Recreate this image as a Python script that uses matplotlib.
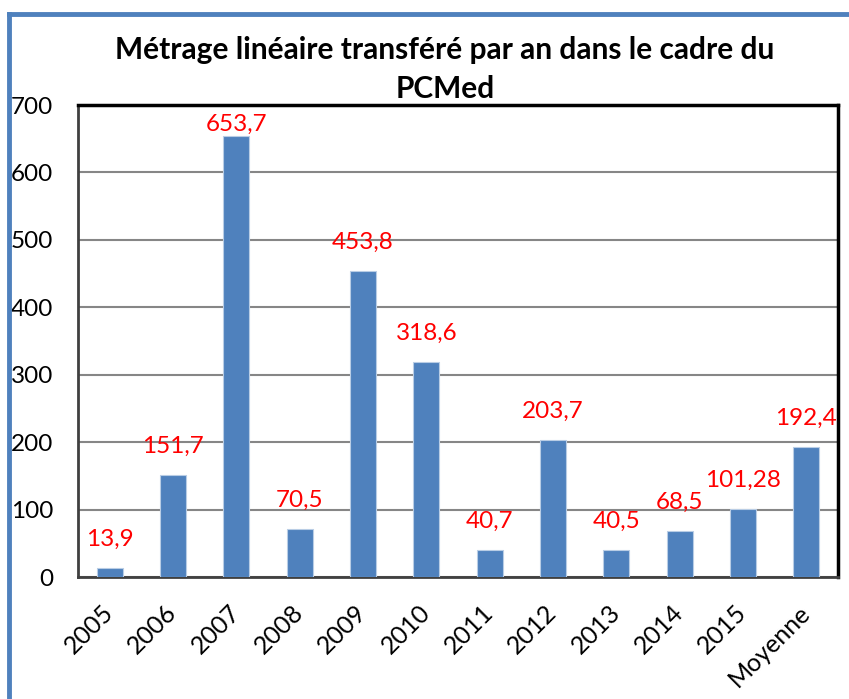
import matplotlib
matplotlib.use('Agg')
import matplotlib.pyplot as plt
from matplotlib.lines import Line2D

categories = ['2005', '2006', '2007', '2008', '2009', '2010', '2011', '2012',
              '2013', '2014', '2015', 'Moyenne']
values = [13.9, 151.7, 653.7, 70.5, 453.8, 318.6, 40.7, 203.7, 40.5, 68.5, 101.28, 192.4]
labels = ['13,9', '151,7', '653,7', '70,5', '453,8', '318,6', '40,7', '203,7',
          '40,5', '68,5', '101,28', '192,4']
yticks = [0, 100, 200, 300, 400, 500, 600, 700]

plt.rcParams['font.family'] = ['Lato', 'DejaVu Sans']
blue = '#4F81BD'

fig = plt.figure(figsize=(8.49, 6.99), dpi=100)
ax = fig.add_axes([78 / 849, 122 / 699, 760 / 849, 472 / 699])

x = list(range(len(categories)))
ax.bar(x, values, width=0.41, color=blue, edgecolor='#B9CDE5', linewidth=0.8, zorder=3)

for xi, v, lab in zip(x, values, labels):
    y = min(v + 27, 655)
    ax.text(xi, y, lab, ha='center', va='bottom', color='red', fontsize=17.5, zorder=4)

ax.set_xlim(-0.5, len(categories) - 0.5)
ax.set_ylim(0, 700)
ax.set_yticks(yticks)
ax.set_yticklabels([str(t) for t in yticks], fontsize=17.5)
ax.set_xticks(x)
ax.set_xticklabels(categories, fontsize=18, rotation=45, ha='right', va='center',
                   rotation_mode='anchor')
ax.tick_params(axis='y', length=0, pad=18)
ax.tick_params(axis='x', length=0, pad=23)
ax.yaxis.grid(True, color='#868686', linewidth=1.5, zorder=0)
ax.set_axisbelow(True)

for side in ['top', 'right']:
    ax.spines[side].set_color('black')
    ax.spines[side].set_linewidth(2.5)
for side in ['left', 'bottom']:
    ax.spines[side].set_color('#404040')
    ax.spines[side].set_linewidth(2)

fig.text(445 / 849, 1 - 50 / 699, 'Métrage linéaire transféré par an dans le cadre du',
         ha='center', va='center', fontsize=21.5, fontweight='bold')
fig.text(445 / 849, 1 - 89 / 699, 'PCMed',
         ha='center', va='center', fontsize=21.5, fontweight='bold')

# blue frame around chart area
fig.add_artist(Line2D([9 / 849, 1], [1 - 14 / 699, 1 - 14 / 699], color=blue,
                      linewidth=3.5, transform=fig.transFigure))
fig.add_artist(Line2D([9 / 849, 9 / 849], [0, 1 - 14 / 699], color=blue,
                      linewidth=3.5, transform=fig.transFigure))

fig.savefig('out.png', dpi=100)
